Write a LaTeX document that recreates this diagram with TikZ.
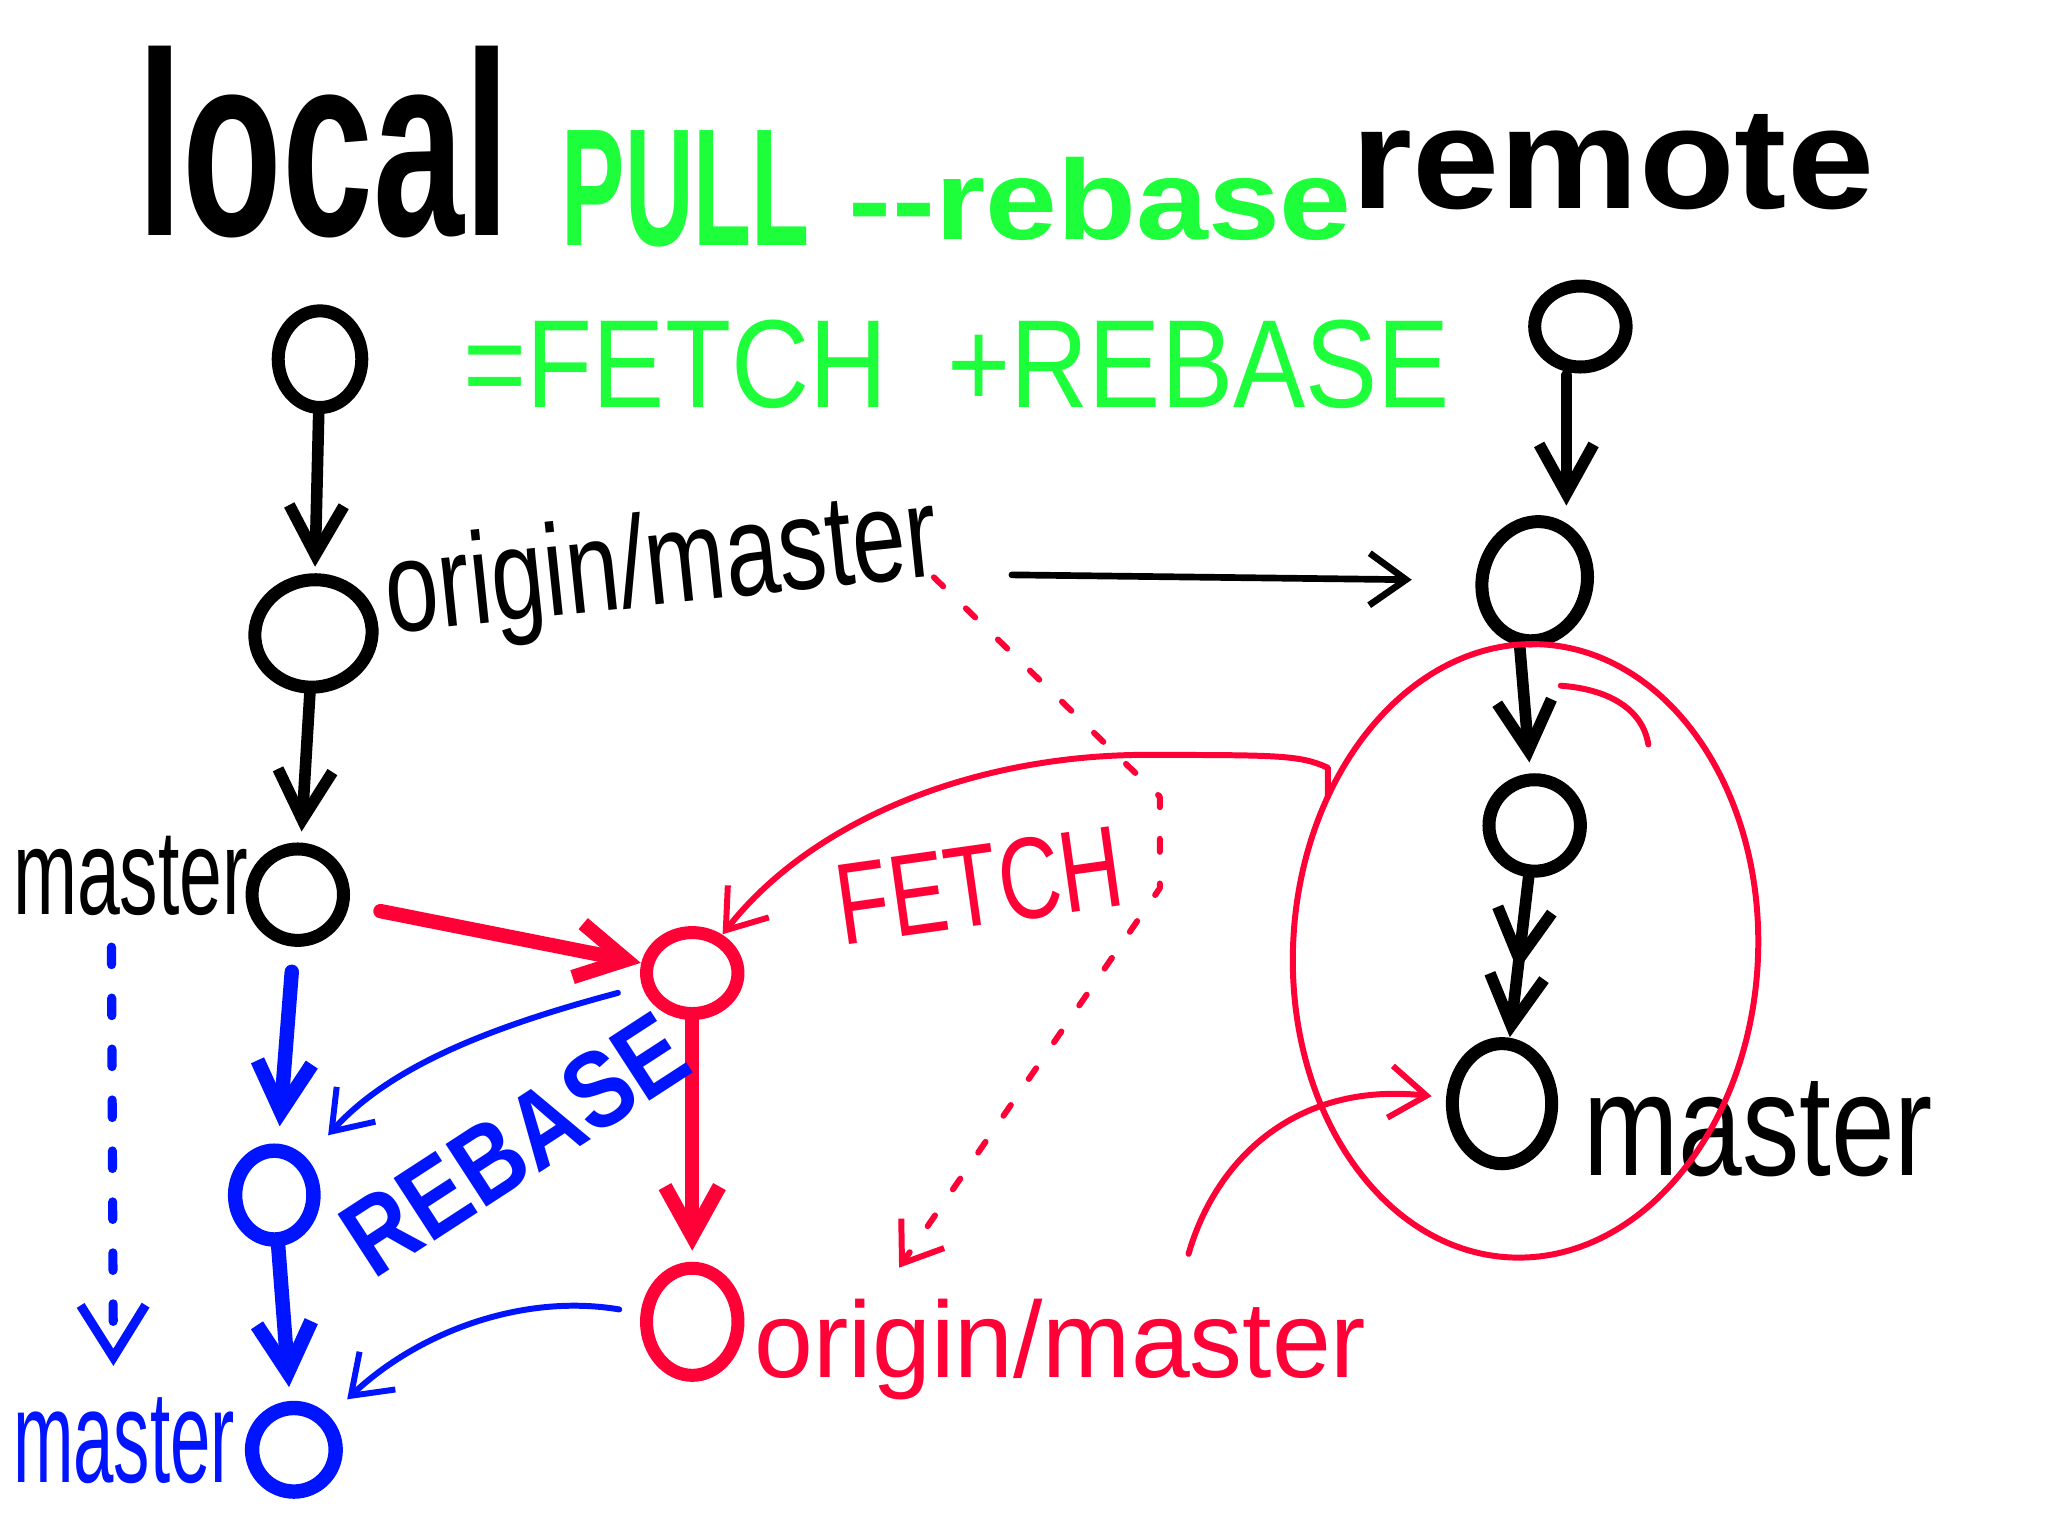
\documentclass[tikz,border=0pt]{standalone}
\usepackage{fontspec}
\setmainfont{Liberation Sans}
\usepackage{graphicx}
\usetikzlibrary{arrows.meta,shapes.geometric,calc}
\newlength\pxu
\setlength\pxu{0.013061cm}
\definecolor{hgreen}{RGB}{30,255,60}
\definecolor{hred}{RGB}{255,0,55}
\definecolor{hblue}{RGB}{0,20,255}
\newcommand\fitt[3]{\resizebox{#1\pxu}{#2\pxu}{#3}}
\begin{document}
\begin{tikzpicture}[x=0.013061cm,y=-0.013061cm,
  every node/.style={inner sep=0pt,outer sep=0pt},
  commit/.style={ellipse,draw,line width=3.7pt},
  blk/.style={line width=3.3pt,line cap=round,line join=round},
  redthick/.style={hred,line width=4.1pt,line cap=round,line join=round},
  redthin/.style={hred,line width=1.7pt,line cap=round,line join=round},
  bluethick/.style={hblue,line width=4.1pt,line cap=round,line join=round},
  bluethin/.style={hblue,line width=1.7pt,line cap=round,line join=round},
  bigarrow/.style={-{Straight Barb[length=14pt,width=15.5pt]}},
  dblarrow/.style={-{Straight Barb[length=14pt,width=15.5pt]Straight Barb[length=14pt,width=15.5pt]}},
  smallarrow/.style={-{Straight Barb[length=10.4pt,width=14.8pt]}}
]
\useasboundingbox[fill=white] (0,0) rectangle (1568,1176);

% ---------- title ----------
\node[anchor=base west] (tLocal) at (105,180) {\fitt{285}{145}{\bfseries local}};
\node[anchor=base west,text=hgreen] (tPull) at (430,188) {\fitt{190}{88}{\bfseries PULL}};
\node[anchor=base west,text=hgreen] (tReb) at (650,183) {\fitt{385}{63}{\bfseries -{}-rebase}};
\node[anchor=base west] (tRemote) at (1035,160) {\fitt{400}{72}{\bfseries remote}};
\node[anchor=base west,text=hgreen] (tEq) at (355,312) {\fitt{755}{67}{=FETCH \ +REBASE}};

% ---------- local (black) ----------
\node[commit,minimum width=64\pxu,minimum height=74\pxu] (L1) at (245,275) {};
\node[commit,minimum width=90\pxu,minimum height=82\pxu,rotate=10] (L2) at (240,485) {};
\node[commit,minimum width=70\pxu,minimum height=70\pxu] (L3) at (228,685) {};
\draw[blk,bigarrow,shorten <=2pt,shorten >=3.7pt] (L1) -- (L2);
\draw[blk,bigarrow,shorten <=2pt,shorten >=5pt] (L2) -- (L3);
\node[rotate=6] (lOrig) at (507,437) {\fitt{425}{72}{origin/master}};
\node[anchor=base west] (lMasterL) at (10,700) {\fitt{180}{60}{master}};

% ---------- remote (black) ----------
\node[commit,minimum width=70\pxu,minimum height=62\pxu] (R1) at (1210,250) {};
\node[commit,minimum width=80\pxu,minimum height=92\pxu,rotate=-15] (R2) at (1175,445) {};
\node[commit,minimum width=70\pxu,minimum height=70\pxu] (R3) at (1175,632) {};
\node[commit,minimum width=76\pxu,minimum height=92\pxu] (R4) at (1150,845) {};
\draw[blk,bigarrow,shorten <=3pt,shorten >=5pt] (R1.250) -- (R1.250 |- R2.north);
\draw[blk,bigarrow,shorten <=1.5pt,shorten >=5pt] (R2.south) -- (R3);
\draw[blk,dblarrow,shorten <=1.5pt,shorten >=2pt] (R3) -- (R4);
\node[anchor=base west] (lMasterR) at (1212,900) {\fitt{268}{72}{master}};
\draw[line width=1.9pt,line cap=round,smallarrow,shorten <=20pt,shorten >=20pt] (lOrig) -- (R2);

% ---------- fetch (red) ----------
\node[ellipse,draw=hred,line width=1.7pt,minimum width=356\pxu,minimum height=470\pxu,rotate=-3] (ring) at (1168,728) {};
\draw[redthin] (1195,525) .. controls (1235,528) and (1258,545) .. (1262,570);
\node[commit,draw=hred,minimum width=70\pxu,minimum height=62\pxu] (F1) at (530,745) {};
\node[commit,draw=hred,minimum width=70\pxu,minimum height=82\pxu] (F2) at (530,1012) {};
\draw[redthick,bigarrow,shorten <=11pt,shorten >=2pt] (L3) -- (F1);
\draw[redthick,bigarrow,shorten <=2pt,shorten >=5pt] (F1) -- (F2);
\draw[redthin,smallarrow,shorten >=2pt] (ring.145) -- ++(0,-22)
  .. controls (995,578) and (980,578) .. (870,578)
  .. controls (740,580) and (620,630) .. (F1);
\node[rotate=8,text=hred] (lFetch) at (750,678) {\fitt{220}{62}{FETCH}};
\node[anchor=base west,text=hred] (lOrigR) at (578,1055) {\fitt{468}{60}{origin/master}};
\coordinate (oTail) at (910,960);
\draw[redthin,smallarrow,shorten >=6pt] (oTail) .. controls (930,890) and (990,828) .. (R4);
\coordinate (dStart) at (715,442);
\draw[redthin,dash pattern=on 3.7pt off 9pt,smallarrow,shorten >=11pt]
  (dStart) -- (888,610) -- (888,680) -- ($(lOrigR.north west)!0.2!(lOrigR.north east)$);

% ---------- rebase (blue) ----------
\node[commit,draw=hblue,line width=4.1pt,minimum width=60\pxu,minimum height=68\pxu] (B1) at (210,915) {};
\node[commit,draw=hblue,line width=4.1pt,minimum width=64\pxu,minimum height=64\pxu] (B2) at (225,1110) {};
\draw[bluethick,bigarrow,shorten <=9pt,shorten >=7pt] (L3) -- (B1);
\draw[bluethick,bigarrow,shorten <=1.5pt,shorten >=6pt] (B1) -- (B2);
\node[rotate=33,text=hblue] (lReb) at (394,876) {\fitt{295}{58}{\bfseries REBASE}};
\node[anchor=base west,text=hblue] (lMasterB) at (10,1135) {\fitt{170}{65}{master}};
\draw[hblue,line width=2.6pt,line cap=round,dash pattern=on 5pt off 9.5pt,
  -{Straight Barb[length=14.8pt,width=18.5pt]},shorten <=9pt,shorten >=9pt]
  ([xshift=-5.5pt]lMasterL.south) -- ([xshift=-3pt]lMasterB.north);
\draw[bluethin,smallarrow,shorten <=9pt,shorten >=11pt] (F1) .. controls (380,785) and (300,815) .. (B1);
\draw[bluethin,smallarrow,shorten <=8pt,shorten >=9pt] (F2) .. controls (400,990) and (320,1020) .. (B2);
\end{tikzpicture}
\end{document}
